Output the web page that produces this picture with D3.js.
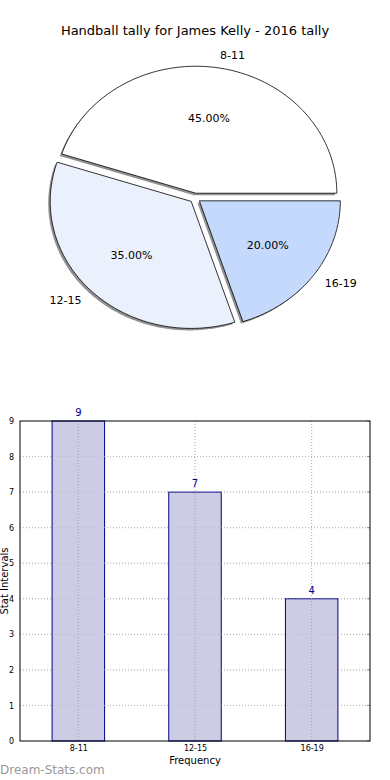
<!DOCTYPE html>
<html><head><meta charset="utf-8">
<script src="https://cdn.jsdelivr.net/npm/d3@7/dist/d3.min.js"></script>
<style>
html,body{margin:0;padding:0;background:#fff;}
svg{display:block;font-family:"DejaVu Sans",sans-serif;}
</style></head>
<body>
<svg id="c" width="390" height="780"></svg>
<script>
// ---- data ----
const title = "Handball tally for James Kelly - 2016 tally";
const categories = ["8-11", "12-15", "16-19"];
const counts = [9, 7, 4];
const pieColors = ["#ffffff", "#eaf1fd", "#c5d9fd"];
const yTicks = [0,1,2,3,4,5,6,7,8,9];
const xLabel = "Frequency";
const yLabel = "Stat Intervals";
const watermark = "Dream-Stats.com";

const svg = d3.select("#c");

// ---- pie ----
const cx = 195, cy = 198, rx = 141, ry = 127, explode = 0.038;
const total = d3.sum(counts);
let start = 0;
const wedges = counts.map((v,i) => {
  const a0 = start, a1 = start + v/total*360;
  start = a1;
  return {i, v, a0, a1, mid:(a0+a1)/2};
});
const rad = d => d*Math.PI/180;
function wedgePath(w, ox, oy) {
  const mx = Math.cos(rad(w.mid)), my = Math.sin(rad(w.mid));
  const x0 = cx + explode*rx*mx + ox, y0 = cy - explode*ry*my + oy;
  const steps = 120;
  const pts = [[x0,y0]];
  for (let k=0;k<=steps;k++){
    const a = rad(w.a0 + (w.a1-w.a0)*k/steps);
    pts.push([x0 + rx*Math.cos(a), y0 - ry*Math.sin(a)]);
  }
  return d3.line()(pts) + "Z";
}
function wedgeCenter(w){
  const mx = Math.cos(rad(w.mid)), my = Math.sin(rad(w.mid));
  return [cx + explode*rx*mx, cy - explode*ry*my, mx, my];
}
const pieG = svg.append("g");
pieG.selectAll("path.sh").data(wedges).join("path")
  .attr("class","sh").attr("d", w => wedgePath(w,-2,2))
  .attr("fill","#7f7f7f").attr("fill-opacity",0.85).attr("stroke","none");
pieG.selectAll("path.w").data(wedges).join("path")
  .attr("class","w").attr("d", w => wedgePath(w,0,0))
  .attr("fill", w => pieColors[w.i]).attr("stroke","#000").attr("stroke-width",0.8)
  .attr("stroke-linejoin","round");
pieG.selectAll("text.lab").data(wedges).join("text")
  .attr("class","lab")
  .attr("x", w => { const c=wedgeCenter(w); return c[0] + 1.1*rx*c[2]; })
  .attr("y", w => { const c=wedgeCenter(w); return c[1] - 1.1*ry*c[3]; })
  .attr("dy","0.35em")
  .attr("text-anchor", w => Math.cos(rad(w.mid))>0 ? "start":"end")
  .attr("font-size",11).attr("fill","#000")
  .text(w => categories[w.i]);
pieG.selectAll("text.pct").data(wedges).join("text")
  .attr("class","pct")
  .attr("x", w => { const c=wedgeCenter(w); return c[0] + 0.6*rx*c[2]; })
  .attr("y", w => { const c=wedgeCenter(w); return c[1] - 0.6*ry*c[3]; })
  .attr("dy","0.35em").attr("text-anchor","middle")
  .attr("font-size",11).attr("fill","#000")
  .text(w => (w.v/total*100).toFixed(2)+"%");
svg.append("text").attr("x",195).attr("y",30).attr("dy","0.35em")
  .attr("text-anchor","middle").attr("font-size",13).text(title);

// ---- bar chart ----
const L = 20, R = 370, T = 421, B = 741;
const x = d3.scalePoint().domain(categories).range([L,R]).padding(0.5);
const y = d3.scaleLinear().domain([0,9]).range([B,T]);
const bw = x.step()*0.45;
const g = svg.append("g");
g.selectAll("line.gy").data(yTicks.filter(t=>t>0&&t<9)).join("line")
  .attr("x1",L).attr("x2",R).attr("y1",d=>y(d)).attr("y2",d=>y(d))
  .attr("stroke","#b5b5b5").attr("stroke-width",1).attr("stroke-dasharray","1,2");
g.selectAll("rect.bar").data(counts).join("rect")
  .attr("x",(d,i)=>x(categories[i])-bw/2).attr("width",bw)
  .attr("y",d=>y(d)).attr("height",d=>B-y(d))
  .attr("fill","#ccccE5").attr("stroke","#00008b").attr("stroke-width",1);
g.selectAll("line.gx").data(categories).join("line")
  .attr("x1",d=>x(d)).attr("x2",d=>x(d)).attr("y1",T).attr("y2",B)
  .attr("stroke","#a8a8a8").attr("stroke-width",1).attr("stroke-dasharray","1,2");
g.selectAll("line.gy2").data(yTicks.filter(t=>t>0&&t<9)).join("line")
  .attr("x1",L).attr("x2",R).attr("y1",d=>y(d)).attr("y2",d=>y(d))
  .attr("stroke","#b5b5b5").attr("stroke-width",1).attr("stroke-dasharray","1,2")
  .attr("stroke-opacity",0.6);
g.selectAll("text.val").data(counts).join("text")
  .attr("x",(d,i)=>x(categories[i])).attr("y",d=>y(d)-5)
  .attr("text-anchor","middle").attr("font-size",10).attr("fill","#00008b")
  .text(d=>d);
const yAx = d3.axisLeft(y).tickValues(yTicks).tickSize(0).tickPadding(6);
g.append("g").attr("transform",`translate(${L},0)`).call(yAx)
  .call(s=>s.select(".domain").remove())
  .selectAll("text").attr("font-size",8).attr("font-family","DejaVu Sans").attr("fill","#000");
const xAx = d3.axisBottom(x).tickSize(0).tickPadding(4);
g.append("g").attr("transform",`translate(0,${B})`).call(xAx)
  .call(s=>s.select(".domain").remove())
  .selectAll("text").attr("font-size",8).attr("font-family","DejaVu Sans").attr("fill","#000");
g.selectAll("line.rt").data(yTicks).join("line")
  .attr("x1",R-3).attr("x2",R).attr("y1",d=>y(d)).attr("y2",d=>y(d))
  .attr("stroke","#999").attr("stroke-width",1);
g.append("rect").attr("x",L).attr("y",T).attr("width",R-L).attr("height",B-T)
  .attr("fill","none").attr("stroke","#000").attr("stroke-width",1);
svg.append("text").attr("x",195).attr("y",760).attr("dy","0.35em")
  .attr("text-anchor","middle").attr("font-size",10).text(xLabel);
svg.append("text").attr("transform","translate(4,581) rotate(-90)").attr("dy","0.35em")
  .attr("text-anchor","middle").attr("font-size",10).text(yLabel);
svg.append("text").attr("x",0).attr("y",770).attr("dy","0.35em")
  .attr("font-size",12).attr("fill","#999999").text(watermark);
</script>
</body></html>
